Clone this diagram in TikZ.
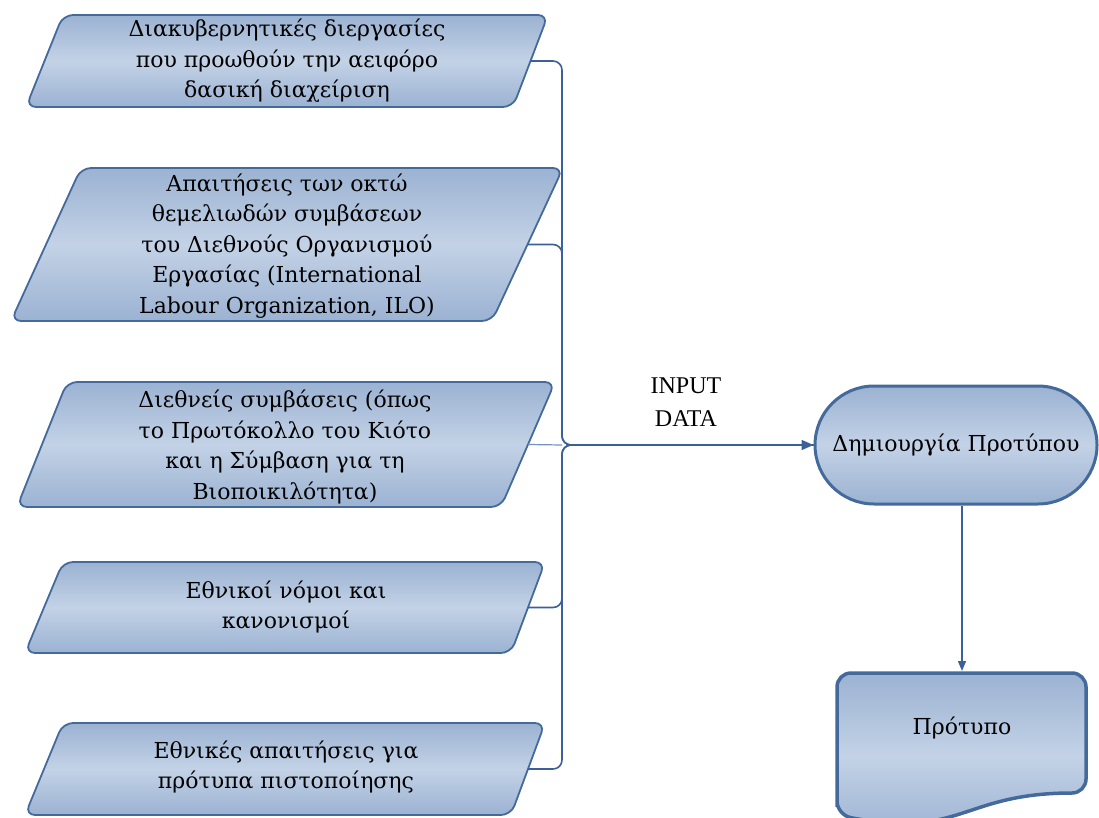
\documentclass[tikz,border=0pt]{standalone}
\usepackage{fontspec}
\setmainfont{Liberation Serif}
\newfontfamily\boxfont{DejaVu Serif}
\usetikzlibrary{arrows.meta,shapes.misc}
\definecolor{bord}{HTML}{446A9C}
\definecolor{conn}{HTML}{3C6196}
\definecolor{ftop}{HTML}{9BB2D2}
\definecolor{fmid}{HTML}{C3D2E6}
\definecolor{lite}{HTML}{7393BE}
\begin{document}
\begin{tikzpicture}[x=1pt,y=-1pt,
  pbox/.style={draw=bord,line width=1.8pt,rounded corners=10pt,top color=ftop,bottom color=ftop,middle color=fmid},
  txt/.style={align=center,font=\boxfont\fontsize{22}{30.5}\selectfont,inner sep=0pt},
  link/.style={draw=conn,line width=1.6pt,rounded corners=9pt},
  bigtip/.style={-{Triangle[length=12pt,width=10pt]}},
  smalltip/.style={-{Triangle[length=10pt,width=8pt]}},
  term/.style={rounded rectangle,draw=bord,line width=3pt,minimum width=282pt,minimum height=118pt,top color=ftop,bottom color=ftop,middle color=fmid,font=\boxfont\fontsize{22}{30.5}\selectfont,inner sep=0pt},
  docsh/.style={draw=bord,line width=3.5pt,rounded corners=14pt,top color=ftop,bottom color=ftop,middle color=fmid}]
\useasboundingbox (0,0) rectangle (1099,818);

% input parallelograms
\path[pbox] (26,107) -- (63,15) -- (548,15) -- (513,107) -- cycle;
\coordinate (b1e) at (530.5,61);
\node[txt] (t1) at (287,61) {Διακυβερνητικές διεργασίες\\που προωθούν την αειφόρο\\δασική διαχείριση};

\path[pbox] (11,321) -- (81,168) -- (563,168) -- (492,321) -- cycle;
\coordinate (b2e) at (527.5,244.5);
\node[txt] (t2) at (287,246) {Απαιτήσεις των οκτώ\\θεμελιωδών συμβάσεων\\του Διεθνούς Οργανισμού\\Εργασίας (International\\Labour Organization, ILO)};

\path[pbox] (17,507) -- (67,382) -- (555,382) -- (501,507) -- cycle;
\coordinate (b3e) at (528,444.5);
\node[txt] (t3) at (285,447) {Διεθνείς συμβάσεις (όπως\\το Πρωτόκολλο του Κιότο\\και η Σύμβαση για τη\\Βιοποικιλότητα)};

\path[pbox] (25,653) -- (63,562) -- (545,562) -- (511,653) -- cycle;
\coordinate (b4e) at (528,607.5);
\node[txt] (t4) at (286,607) {Εθνικοί νόμοι και\\κανονισμοί};

\path[pbox] (25,815) -- (63,723) -- (545,723) -- (511,815) -- cycle;
\coordinate (b5e) at (528,769);
\node[txt] (t5) at (286,767) {Εθνικές απαιτήσεις για\\πρότυπα πιστοποίησης};

% process terminal
\node[term] (cre) at (956,445) {Δημιουργία Προτύπου};

% document
\path[docsh] (837,815) -- (837,673) -- (1086,673) -- (1086,793) .. controls (962,793) and (962,839) .. (837,815) -- cycle;
\coordinate (doct) at (962,671);
\node[txt] (doc) at (962,728) {Πρότυπο};

% connectors
\coordinate (j) at (562,445);
\draw[link] (b1e) -| (j) -- (cre.west);
\draw[link] (b2e) -| (j) -- (cre.west);
\draw[link] (b4e) -| (j) -- (cre.west);
\draw[link,bigtip] (b5e) -| (j) -- (cre.west);
\draw[draw=lite,line width=1.2pt] (b3e) -- (j);
\draw[draw=conn,line width=1.5pt,smalltip] (cre.south -| doct) -- (doct);

\node[align=center,font=\fontsize{24}{33}\selectfont,inner sep=0pt] (lab) at (686,402) {INPUT\\DATA};
\end{tikzpicture}
\end{document}
